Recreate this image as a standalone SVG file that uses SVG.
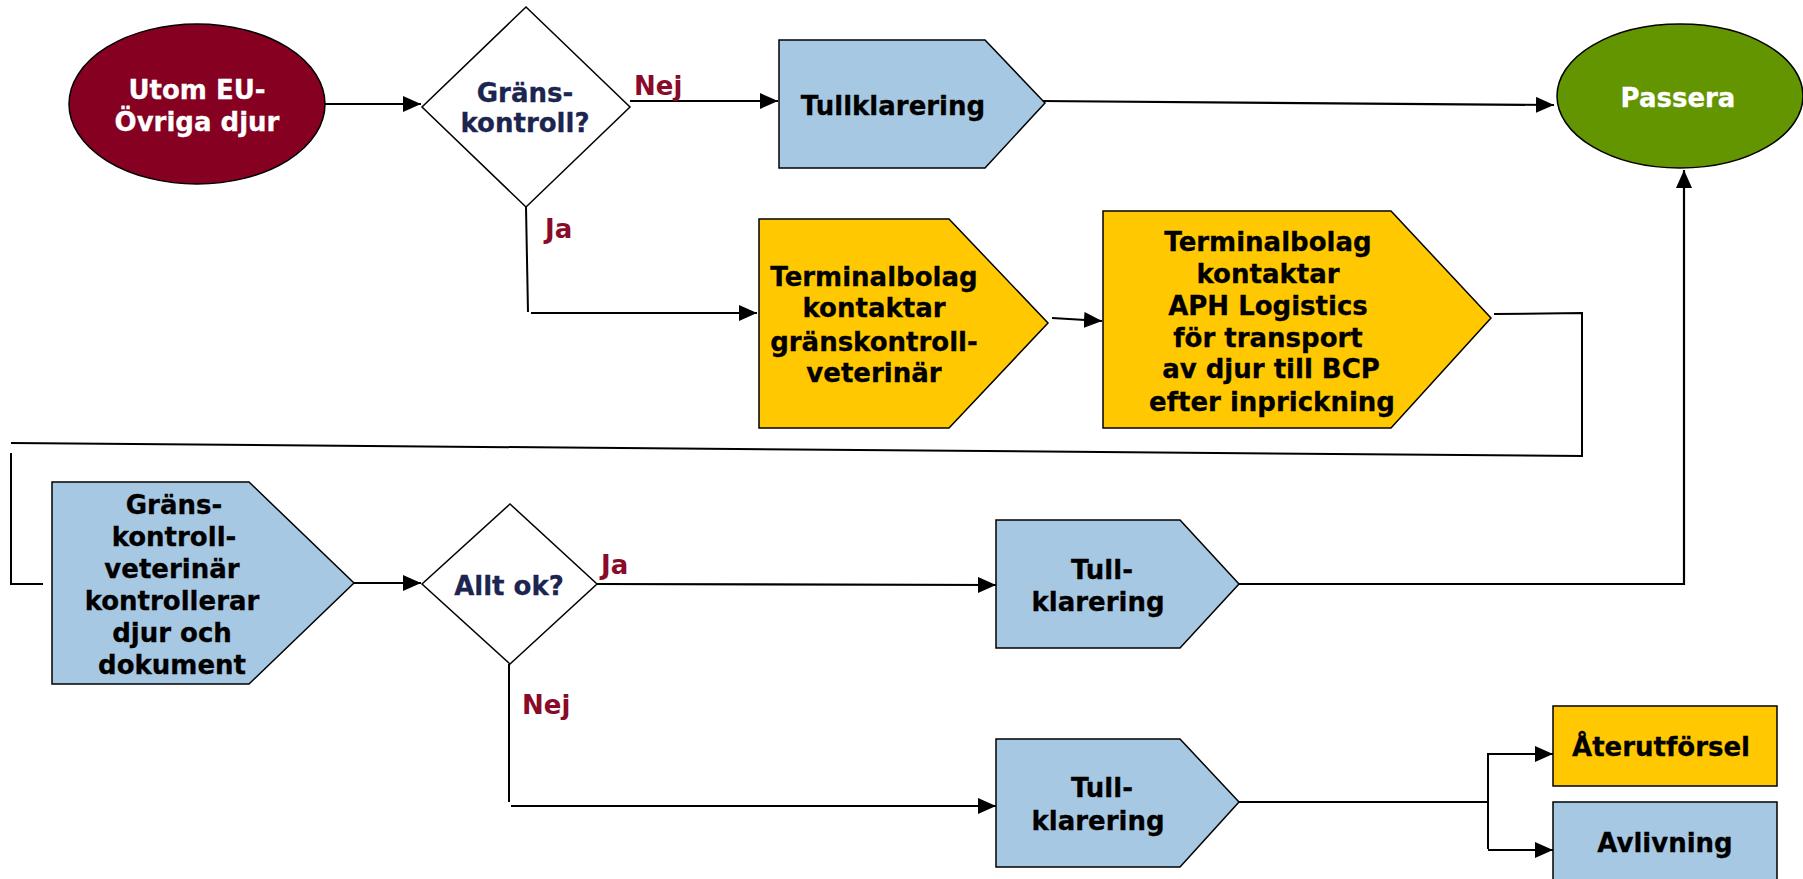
<svg xmlns="http://www.w3.org/2000/svg" width="1803" height="879" viewBox="0 0 1803 879">
<defs>
<marker id="ah" viewBox="0 0 10 10" refX="10" refY="5" markerWidth="18" markerHeight="16" preserveAspectRatio="none" markerUnits="userSpaceOnUse" orient="auto">
<path d="M0,0 L10,5 L0,10 Z" fill="#000"/>
</marker>
</defs>
<style>
.t{font-family:"DejaVu Sans",Verdana,sans-serif;font-weight:bold;font-size:26px;text-anchor:middle;fill:#000;stroke:#000;stroke-width:0.3}
.w{fill:#fff;stroke:#fff}
.q{fill:#1b2550;stroke:#1b2550}
.lab{font-family:"DejaVu Sans",Verdana,sans-serif;font-weight:bold;font-size:26px;fill:#8a0a2a}
.s{stroke:#000;stroke-width:1.5}
.blue{fill:#a6c8e2}
.yel{fill:#ffc800}
.c{fill:none;stroke:#000;stroke-width:2}
.ca{fill:none;stroke:#000;stroke-width:2.2;marker-end:url(#ah)}
</style>
<rect width="1803" height="879" fill="#fff"/>
<g id="connectors">
<path class="ca" d="M325,104 L421,104"/>
<path class="ca" d="M630,101 L778,101"/>
<path class="ca" d="M1040,101 L1554,105"/>
<path class="c" d="M526,207 L528,312"/>
<path class="ca" d="M531,313 L757,313"/>
<path class="ca" d="M1052,318 L1102,321"/>
<path class="c" d="M1494,314 L1582,313 L1582,456 L11,443"/>
<path class="c" d="M11,453 L11,584 L43,584"/>
<path class="ca" d="M354,583 L421,583"/>
<path class="ca" d="M597,584 L996,585"/>
<path class="ca" d="M1239,584 L1684,584 L1684,170"/>
<path class="c" d="M509,664 L509,802"/>
<path class="ca" d="M511,806 L996,806"/>
<path class="c" d="M1239,802 L1488,802"/>
<path class="c" d="M1488,753 L1488,849"/>
<path class="ca" d="M1488,754 L1553,754"/>
<path class="ca" d="M1488,850 L1553,850"/>
<text class="lab" x="634" y="95">Nej</text>
<text class="lab" x="545" y="238">Ja</text>
<text class="lab" x="601" y="574">Ja</text>
<text class="lab" x="522" y="714">Nej</text>
</g>
<g id="start">
<ellipse class="s" cx="197" cy="104" rx="128" ry="80" fill="#850021"/>
<text class="t w" x="197" y="99">Utom EU-</text>
<text class="t w" x="197" y="131">Övriga djur</text>
</g>
<g id="dec1">
<path class="s" fill="#fff" d="M526,7 L630,107 L526,207 L422,107 Z"/>
<text class="t q" x="525" y="102">Gräns-</text>
<text class="t q" x="525" y="132">kontroll?</text>
</g>
<g id="tull1">
<path class="s blue" d="M779,40 L985,40 L1045,103 L985,168 L779,168 Z"/>
<text class="t" x="893" y="115">Tullklarering</text>
</g>
<g id="passera">
<ellipse class="s" cx="1680" cy="96" rx="123" ry="72" fill="#639500"/>
<text class="t w" x="1678" y="107">Passera</text>
</g>
<g id="term1">
<path class="s yel" d="M759,219 L949,219 L1048,323 L949,428 L759,428 Z"/>
<text class="t" x="874" y="286">Terminalbolag</text>
<text class="t" x="874" y="317">kontaktar</text>
<text class="t" x="874" y="351">gränskontroll-</text>
<text class="t" x="874" y="382">veterinär</text>
</g>
<g id="term2">
<path class="s yel" d="M1103,211 L1391,211 L1491,318 L1391,428 L1103,428 Z"/>
<text class="t" x="1268" y="251">Terminalbolag</text>
<text class="t" x="1268" y="283">kontaktar</text>
<text class="t" x="1268" y="315">APH Logistics</text>
<text class="t" x="1268" y="347">för transport</text>
<text class="t" x="1271" y="378">av djur till BCP</text>
<text class="t" x="1272" y="411">efter inprickning</text>
</g>
<g id="vet">
<path class="s blue" d="M52,482 L249,482 L354,583 L249,684 L52,684 Z"/>
<text class="t" x="174" y="514">Gräns-</text>
<text class="t" x="174" y="546">kontroll-</text>
<text class="t" x="172" y="578">veterinär</text>
<text class="t" x="172" y="610">kontrollerar</text>
<text class="t" x="172" y="642">djur och</text>
<text class="t" x="172" y="674">dokument</text>
</g>
<g id="dec2">
<path class="s" fill="#fff" d="M510,504 L597,584 L510,664 L422,584 Z"/>
<text class="t q" x="509" y="595">Allt ok?</text>
</g>
<g id="tull2">
<path class="s blue" d="M996,520 L1180,520 L1239,584 L1180,648 L996,648 Z"/>
<text class="t" x="1102" y="579">Tull-</text>
<text class="t" x="1098" y="611">klarering</text>
</g>
<g id="tull3">
<path class="s blue" d="M996,739 L1180,739 L1239,802 L1180,867 L996,867 Z"/>
<text class="t" x="1102" y="797">Tull-</text>
<text class="t" x="1098" y="830">klarering</text>
</g>
<g id="ater">
<rect class="s yel" x="1553" y="706" width="224" height="80"/>
<text class="t" x="1661" y="756">Återutförsel</text>
</g>
<g id="avliv">
<rect class="s blue" x="1553" y="802" width="224" height="90"/>
<text class="t" x="1665" y="852">Avlivning</text>
</g>
</svg>
